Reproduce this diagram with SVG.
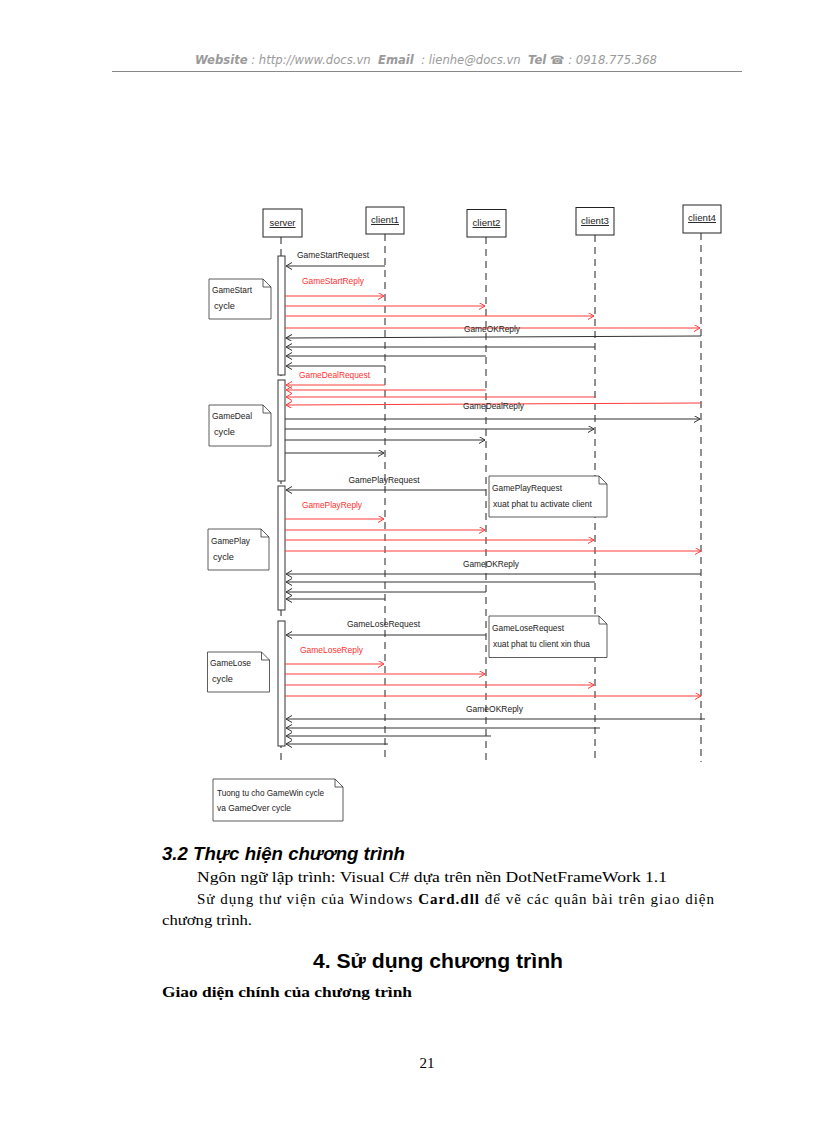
<svg xmlns="http://www.w3.org/2000/svg" width="816" height="1123" viewBox="0 0 816 1123">
<style>
.lbl{font-family:"Liberation Sans",Arial,sans-serif;font-size:9.5px;fill:#222}
.red{fill:#ff3030}
.box{fill:#fff;stroke:#222;stroke-width:1}
.life{stroke:#222;stroke-width:1;stroke-dasharray:7,5}
.bar{fill:#fff;stroke:#333;stroke-width:1}
.mb{stroke:#333;stroke-width:1;fill:none;marker-end:url(#ab)}
.mr{stroke:#ff3b3b;stroke-width:1;fill:none;marker-end:url(#ar)}
.note{fill:#fff;stroke:#333;stroke-width:0.8}
.hdr{font-family:"DejaVu Sans",Verdana,sans-serif;font-size:11.5px;font-style:italic;fill:#9a9a9a}
.body{font-family:"Liberation Serif","Times New Roman",serif;font-size:15px;fill:#000}
</style>
<defs>
<marker id="ab" markerWidth="8" markerHeight="8" refX="6" refY="3.5" orient="auto" markerUnits="userSpaceOnUse"><path d="M0,0 L6,3.5 L0,7" fill="none" stroke="#333" stroke-width="1"/></marker>
<marker id="ar" markerWidth="8" markerHeight="8" refX="6" refY="3.5" orient="auto" markerUnits="userSpaceOnUse"><path d="M0,0 L6,3.5 L0,7" fill="none" stroke="#ff3b3b" stroke-width="1"/></marker>
</defs>
<rect width="816" height="1123" fill="#fff"/>
<g id="header">
<text class="hdr" x="195" y="64" xml:space="preserve" textLength="462" lengthAdjust="spacingAndGlyphs"><tspan font-weight="bold">Website</tspan> : http://www.docs.vn  <tspan font-weight="bold">Email</tspan>  : lienhe@docs.vn  <tspan font-weight="bold">Tel</tspan> ☎ : 0918.775.368</text>
<line x1="112" y1="71.5" x2="742" y2="71.5" stroke="#888" stroke-width="1"/>
</g>
<g id="server">
<line class="life" x1="281" y1="237" x2="281" y2="762"/>
<rect class="box" x="263" y="209" width="39" height="28"/>
<text class="lbl" x="282.5" y="226" text-anchor="middle" text-decoration="underline" textLength="26" lengthAdjust="spacingAndGlyphs">server</text>
<rect class="bar" x="278" y="256" width="7" height="119"/>
<rect class="bar" x="278" y="380" width="7" height="101"/>
<rect class="bar" x="278" y="486" width="7" height="124"/>
<rect class="bar" x="278" y="621" width="7" height="125"/>
</g>
<g id="client1">
<line class="life" x1="385" y1="234" x2="385" y2="762"/>
<rect class="box" x="366" y="207" width="38" height="27"/>
<text class="lbl" x="385" y="223" text-anchor="middle" text-decoration="underline" textLength="28" lengthAdjust="spacingAndGlyphs">client1</text>
</g>
<g id="client2">
<line class="life" x1="486" y1="237" x2="486" y2="762"/>
<rect class="box" x="467" y="209.5" width="39" height="27.5"/>
<text class="lbl" x="486.5" y="226" text-anchor="middle" text-decoration="underline" textLength="28" lengthAdjust="spacingAndGlyphs">client2</text>
</g>
<g id="client3">
<line class="life" x1="595" y1="235" x2="595" y2="762"/>
<rect class="box" x="576" y="207.5" width="38" height="27.5"/>
<text class="lbl" x="595" y="224" text-anchor="middle" text-decoration="underline" textLength="28" lengthAdjust="spacingAndGlyphs">client3</text>
</g>
<g id="client4">
<line class="life" x1="701" y1="233" x2="701" y2="762"/>
<rect class="box" x="683" y="205" width="38" height="28"/>
<text class="lbl" x="702" y="221" text-anchor="middle" text-decoration="underline" textLength="28" lengthAdjust="spacingAndGlyphs">client4</text>
</g>
<g id="note-gamestart">
<path class="note" d="M209,279 H263 L271,287 V319 H209 Z M263,279 V287 H271"/>
<text class="lbl" x="212" y="293" textLength="40" lengthAdjust="spacingAndGlyphs">GameStart</text>
<text class="lbl" x="214" y="309" textLength="21" lengthAdjust="spacingAndGlyphs">cycle</text>
</g>
<g id="note-gamedeal">
<path class="note" d="M209,405 H263 L271,413 V446 H209 Z M263,405 V413 H271"/>
<text class="lbl" x="212" y="419" textLength="40" lengthAdjust="spacingAndGlyphs">GameDeal</text>
<text class="lbl" x="214" y="435" textLength="21" lengthAdjust="spacingAndGlyphs">cycle</text>
</g>
<g id="note-gameplay">
<path class="note" d="M208,529 H261 L269,537 V570 H208 Z M261,529 V537 H269"/>
<text class="lbl" x="211" y="544" textLength="39" lengthAdjust="spacingAndGlyphs">GamePlay</text>
<text class="lbl" x="213" y="560" textLength="21" lengthAdjust="spacingAndGlyphs">cycle</text>
</g>
<g id="note-gamelose">
<path class="note" d="M207.5,652 H261.5 L269.5,660 V692 H207.5 Z M261.5,652 V660 H269.5"/>
<text class="lbl" x="210" y="666" textLength="41" lengthAdjust="spacingAndGlyphs">GameLose</text>
<text class="lbl" x="212" y="682" textLength="21" lengthAdjust="spacingAndGlyphs">cycle</text>
</g>
<g id="note-playrequest">
<path class="note" d="M489,476 H599 L607,484 V517 H489 Z M599,476 V484 H607"/>
<text class="lbl" x="492" y="491" textLength="70" lengthAdjust="spacingAndGlyphs">GamePlayRequest</text>
<text class="lbl" x="493" y="507" textLength="99" lengthAdjust="spacingAndGlyphs">xuat phat tu activate client</text>
</g>
<g id="note-loserequest">
<path class="note" d="M489,616 H599 L607,624 V657.5 H489 Z M599,616 V624 H607"/>
<text class="lbl" x="492" y="631" textLength="72" lengthAdjust="spacingAndGlyphs">GameLoseRequest</text>
<text class="lbl" x="493" y="647" textLength="97" lengthAdjust="spacingAndGlyphs">xuat phat tu client xin thua</text>
</g>
<g id="note-other">
<path class="note" d="M213,779 H335 L343,787 V821 H213 Z M335,779 V787 H343"/>
<text class="lbl" x="217" y="796" font-size="8.5" textLength="107" lengthAdjust="spacingAndGlyphs">Tuong tu cho GameWin cycle</text>
<text class="lbl" x="217" y="811" font-size="8.5" textLength="74" lengthAdjust="spacingAndGlyphs">va GameOver cycle</text>
</g>
<g id="connectors">
<line class="mb" x1="385" y1="266" x2="286" y2="266"/>
<line class="mr" x1="285" y1="296" x2="384" y2="296"/>
<line class="mr" x1="285" y1="306" x2="485" y2="306"/>
<line class="mr" x1="285" y1="316" x2="594" y2="316"/>
<line class="mr" x1="285" y1="328" x2="700" y2="328"/>
<line class="mb" x1="701" y1="336" x2="286" y2="338"/>
<line class="mb" x1="595" y1="347" x2="286" y2="347"/>
<line class="mb" x1="486" y1="356" x2="286" y2="356"/>
<line class="mb" x1="385" y1="366" x2="286" y2="366"/>
<line class="mr" x1="385" y1="385" x2="286" y2="385"/>
<line class="mr" x1="486" y1="390" x2="286" y2="390"/>
<line class="mr" x1="595" y1="397" x2="286" y2="397"/>
<line class="mr" x1="701" y1="403" x2="286" y2="405"/>
<line class="mb" x1="285" y1="419" x2="700" y2="419"/>
<line class="mb" x1="285" y1="429" x2="594" y2="429"/>
<line class="mb" x1="285" y1="440" x2="485" y2="440"/>
<line class="mb" x1="285" y1="453" x2="384" y2="453"/>
<line class="mb" x1="486" y1="490" x2="286" y2="490"/>
<line class="mr" x1="285" y1="519" x2="384" y2="519"/>
<line class="mr" x1="285" y1="530" x2="485" y2="530"/>
<line class="mr" x1="285" y1="540" x2="594" y2="540"/>
<line class="mr" x1="285" y1="551" x2="701" y2="551"/>
<line class="mb" x1="701" y1="574" x2="286" y2="574"/>
<line class="mb" x1="595" y1="582" x2="286" y2="582"/>
<line class="mb" x1="486" y1="592" x2="286" y2="592"/>
<line class="mb" x1="385" y1="599" x2="286" y2="599"/>
<line class="mb" x1="486" y1="635" x2="286" y2="635"/>
<line class="mr" x1="285" y1="664" x2="384" y2="664"/>
<line class="mr" x1="285" y1="674" x2="485" y2="674"/>
<line class="mr" x1="285" y1="685" x2="594" y2="685"/>
<line class="mr" x1="285" y1="696" x2="701" y2="696"/>
<line class="mb" x1="705" y1="719" x2="286" y2="719"/>
<line class="mb" x1="600" y1="728" x2="286" y2="728"/>
<line class="mb" x1="491" y1="736" x2="286" y2="736"/>
<line class="mb" x1="388" y1="744" x2="286" y2="744"/>
<text class="lbl" x="297" y="258" textLength="72" lengthAdjust="spacingAndGlyphs">GameStartRequest</text>
<text class="lbl red" x="302" y="284" textLength="62" lengthAdjust="spacingAndGlyphs">GameStartReply</text>
<text class="lbl" x="464" y="332" textLength="56" lengthAdjust="spacingAndGlyphs">GameOKReply</text>
<text class="lbl red" x="299" y="377.5" textLength="71" lengthAdjust="spacingAndGlyphs">GameDealRequest</text>
<text class="lbl" x="463" y="409" textLength="61" lengthAdjust="spacingAndGlyphs">GameDealReply</text>
<text class="lbl" x="348.5" y="483" textLength="71" lengthAdjust="spacingAndGlyphs">GamePlayRequest</text>
<text class="lbl red" x="302" y="508" textLength="60" lengthAdjust="spacingAndGlyphs">GamePlayReply</text>
<text class="lbl" x="463" y="567" textLength="56" lengthAdjust="spacingAndGlyphs">GameOKReply</text>
<text class="lbl" x="347" y="627" textLength="73" lengthAdjust="spacingAndGlyphs">GameLoseRequest</text>
<text class="lbl red" x="300" y="653" textLength="63" lengthAdjust="spacingAndGlyphs">GameLoseReply</text>
<text class="lbl" x="466" y="712" textLength="57" lengthAdjust="spacingAndGlyphs">GameOKReply</text>
</g>
<g id="text-body">
<text x="162" y="860" font-family="'Liberation Sans',Arial,sans-serif" font-size="18" font-weight="bold" font-style="italic" textLength="243" lengthAdjust="spacingAndGlyphs">3.2 Thực hiện chương trình</text>
<text class="body" x="197" y="882" textLength="470" lengthAdjust="spacingAndGlyphs">Ngôn ngữ lập trình: Visual C#  dựa trên nền DotNetFrameWork 1.1</text>
<text class="body" x="197" y="904" textLength="517" lengthAdjust="spacing">Sử dụng thư viện của Windows <tspan font-weight="bold">Card.dll</tspan> để vẽ các quân bài trên giao diện</text>
<text class="body" x="162" y="925" textLength="90" lengthAdjust="spacingAndGlyphs">chương trình.</text>
<text x="313" y="968" font-family="'Liberation Sans',Arial,sans-serif" font-size="20" font-weight="bold" textLength="250" lengthAdjust="spacingAndGlyphs">4. Sử dụng chương trình</text>
<text class="body" x="162" y="997" font-weight="bold" textLength="250" lengthAdjust="spacingAndGlyphs">Giao diện chính của chương trình</text>
<text class="body" x="427" y="1068" text-anchor="middle" font-size="14">21</text>
</g>
</svg>
